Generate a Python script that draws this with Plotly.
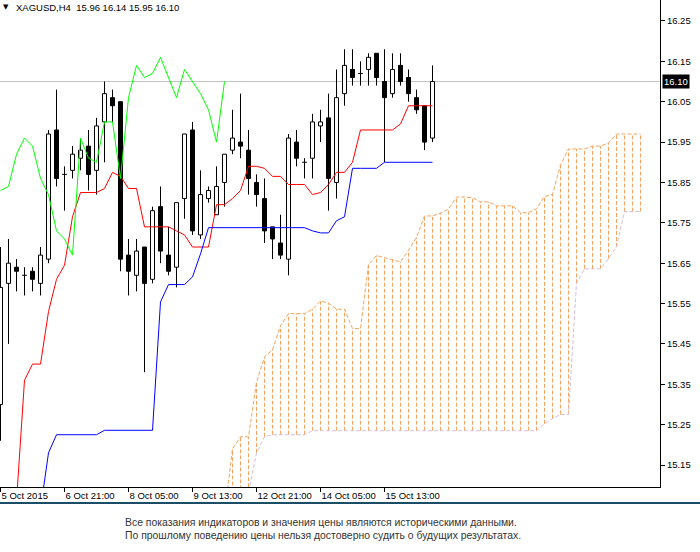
import plotly.graph_objects as go

# H4 bars, index 0 = 5 Oct 13:00 ... 54 = 16 Oct 13:00
bars = list(range(55))
open_ = [15.30, 15.60, 15.64, 15.62, 15.63, 15.60, 15.66, 15.98, 15.87, 15.88,
         15.91, 15.94, 15.88, 16.00, 16.06, 16.05, 15.67, 15.62, 15.69, 15.61,
         15.79, 15.67, 15.64, 15.81, 15.98, 15.72, 15.81, 15.77, 15.85, 15.93,
         15.95, 15.93, 15.85, 15.81, 15.74, 15.70, 15.66, 15.95, 15.90, 15.91,
         15.99, 16.01, 15.85, 16.07, 16.13, 16.12, 16.13, 16.17, 16.10, 16.07,
         16.14, 16.11, 16.06, 16.04, 15.96]
high = [15.69, 15.71, 15.66, 15.64, 15.64, 15.69, 15.98, 16.08, 15.89, 15.94,
        15.96, 15.98, 16.01, 16.10, 16.08, 16.05, 15.71, 15.71, 15.69, 15.79,
        15.84, 15.74, 15.80, 15.97, 16.00, 15.88, 15.84, 15.89, 15.92, 16.03,
        16.07, 15.98, 15.87, 15.86, 15.74, 15.77, 15.97, 15.98, 15.91, 16.02,
        16.03, 16.07, 16.13, 16.18, 16.18, 16.15, 16.17, 16.17, 16.18, 16.17,
        16.17, 16.13, 16.08, 16.04, 16.14]
low = [15.21, 15.45, 15.58, 15.57, 15.58, 15.57, 15.65, 15.84, 15.78, 15.86,
       15.88, 15.83, 15.82, 15.90, 16.00, 15.63, 15.57, 15.58, 15.38, 15.60,
       15.65, 15.62, 15.59, 15.76, 15.72, 15.71, 15.80, 15.77, 15.79, 15.92,
       15.91, 15.82, 15.79, 15.70, 15.66, 15.66, 15.62, 15.89, 15.86, 15.86,
       15.95, 15.78, 15.81, 16.04, 16.09, 16.09, 16.09, 16.09, 15.90, 16.06,
       16.09, 16.05, 16.02, 15.93, 15.95]
close = [15.59, 15.65, 15.63, 15.62, 15.61, 15.67, 15.97, 15.86, 15.87, 15.92,
         15.93, 15.87, 15.99, 16.07, 16.04, 15.66, 15.63, 15.68, 15.60, 15.78,
         15.68, 15.63, 15.80, 15.97, 15.73, 15.82, 15.83, 15.84, 15.92, 15.96,
         15.94, 15.86, 15.82, 15.73, 15.71, 15.67, 15.96, 15.91, 15.90, 16.00,
         16.00, 15.86, 16.06, 16.14, 16.11, 16.12, 16.16, 16.11, 16.06, 16.13,
         16.10, 16.07, 16.03, 15.95, 16.10]

# Ichimoku lines
tenkan = [14.98, 15.01, 15.06, 15.36, 15.40, 15.40, 15.53, 15.61, 15.645, 15.765,
          15.825, 15.825, 15.825, 15.835, 15.875, 15.865, 15.835, 15.835, 15.74, 15.74,
          15.74, 15.74, 15.73, 15.72, 15.69, 15.69, 15.69, 15.795, 15.795, 15.81,
          15.83, 15.89, 15.89, 15.885, 15.865, 15.865, 15.845, 15.845, 15.845, 15.82,
          15.825, 15.845, 15.875, 15.875, 15.90, 15.98, 15.98, 15.98, 15.98, 15.98,
          15.995, 16.04, 16.04, 16.04, 16.04]
kijun = [14.98, 15.00, 15.00, 15.02, 15.04, 15.04, 15.18, 15.225, 15.225, 15.225,
         15.225, 15.225, 15.225, 15.236, 15.236, 15.236, 15.236, 15.236, 15.236, 15.236,
         15.554, 15.597, 15.597, 15.597, 15.616, 15.673, 15.738, 15.738, 15.738, 15.738,
         15.738, 15.738, 15.738, 15.738, 15.738, 15.738, 15.738, 15.738, 15.738, 15.73,
         15.725, 15.725, 15.755, 15.765, 15.885, 15.885, 15.885, 15.885, 15.90, 15.90,
         15.90, 15.90, 15.90, 15.90, 15.90]

cloud_x = list(range(28, 81))
senkou_a = [15.03, 15.19, 15.22, 15.22, 15.355, 15.418, 15.435, 15.495, 15.525, 15.525,
            15.525, 15.536, 15.556, 15.551, 15.536, 15.536, 15.488, 15.488, 15.647, 15.669,
            15.664, 15.659, 15.653, 15.682, 15.714, 15.767, 15.767, 15.774, 15.784, 15.814,
            15.814, 15.812, 15.802, 15.802, 15.792, 15.792, 15.792, 15.775, 15.775, 15.785,
            15.815, 15.82, 15.893, 15.933, 15.933, 15.933, 15.94, 15.94, 15.948, 15.97,
            15.97, 15.97, 15.97]
senkou_b = [15.02, 15.04, 15.06, 15.08, 15.18, 15.22, 15.225, 15.225, 15.225, 15.225,
            15.225, 15.235, 15.235, 15.235, 15.235, 15.235, 15.235, 15.235, 15.235, 15.235,
            15.235, 15.235, 15.235, 15.235, 15.235, 15.235, 15.235, 15.235, 15.235, 15.235,
            15.235, 15.235, 15.235, 15.235, 15.235, 15.235, 15.235, 15.235, 15.235, 15.235,
            15.252, 15.265, 15.275, 15.275, 15.60, 15.636, 15.636, 15.636, 15.661, 15.69,
            15.778, 15.778, 15.778]

chikou_x = list(range(0, 29))
chikou = close[26:]

price_ticks = [15.15, 15.25, 15.35, 15.45, 15.55, 15.65, 15.75, 15.85, 15.95, 16.05, 16.15, 16.25]
time_ticks = [0, 8, 16, 24, 32, 40, 48]
time_labels = ["5 Oct 2015", "6 Oct 21:00", "8 Oct 05:00", "9 Oct 13:00",
               "12 Oct 21:00", "14 Oct 05:00", "15 Oct 13:00"]
last_price = 16.10

fig = go.Figure()

# cloud hatch between the two spans
hx, hy = [], []
for j, a, b in zip(cloud_x, senkou_a, senkou_b):
    hx += [j, j, None]
    hy += [b, a, None]
fig.add_trace(go.Scatter(x=hx, y=hy, mode="lines",
                         line=dict(color="#F4A460", width=1, dash="4px,2px")))
fig.add_trace(go.Scatter(x=cloud_x, y=senkou_a, mode="lines",
                         line=dict(color="#F4A460", width=1, dash="4px,2px")))
fig.add_trace(go.Scatter(x=cloud_x, y=senkou_b, mode="lines",
                         line=dict(color="#D8BFD8", width=1, dash="4px,2px")))

# candle bodies
up = [i for i in bars if close[i] > open_[i]]
dn = [i for i in bars if close[i] < open_[i]]
fig.add_trace(go.Bar(x=up, base=[open_[i] for i in up], y=[close[i] - open_[i] for i in up],
                     width=0.5, marker=dict(color="white", line=dict(color="black", width=1))))
fig.add_trace(go.Bar(x=dn, base=[close[i] for i in dn], y=[open_[i] - close[i] for i in dn],
                     width=0.5, marker=dict(color="black", line=dict(color="black", width=1))))

# wicks and doji
wx, wy = [], []
for i in bars:
    top = max(open_[i], close[i])
    bot = min(open_[i], close[i])
    wx += [i, i, None, i, i, None]
    wy += [high[i], top, None, bot, low[i], None]
    if open_[i] == close[i]:
        wx += [i - 0.3, i + 0.3, None]
        wy += [open_[i], open_[i], None]
fig.add_trace(go.Scatter(x=wx, y=wy, mode="lines", line=dict(color="black", width=1)))

fig.add_trace(go.Scatter(x=bars, y=tenkan, mode="lines", line=dict(color="#FF0000", width=1)))
fig.add_trace(go.Scatter(x=bars, y=kijun, mode="lines", line=dict(color="#0000FF", width=1)))
fig.add_trace(go.Scatter(x=chikou_x, y=chikou, mode="lines", line=dict(color="#00FF00", width=1)))

fig.add_shape(type="line", xref="paper", x0=0, x1=1, y0=last_price, y1=last_price,
              line=dict(color="#C0C0C0", width=1), layer="below")
# separator below the chart
fig.add_shape(type="line", xref="paper", yref="paper", x0=0, x1=700 / 660,
              y0=-0.0329, y1=-0.0329, line=dict(color="#1B4D66", width=2))

fig.add_annotation(xref="paper", yref="paper", x=0, y=1, xanchor="left", yanchor="middle",
                   xshift=1, yshift=-7, text="▼", showarrow=False,
                   font=dict(family="DejaVu Sans", size=7, color="black"))
fig.add_annotation(xref="paper", yref="paper", x=0, y=1, xanchor="left", yanchor="middle",
                   xshift=14, yshift=-7, showarrow=False,
                   text="XAGUSD,H4\u00a0\u00a015.96 16.14 15.95 16.10",
                   font=dict(family="Liberation Sans", size=9.5, color="black"))
fig.add_annotation(xref="paper", x=1, y=last_price, xanchor="left", yanchor="middle",
                   xshift=2, text="16.10", showarrow=False, bgcolor="black", borderpad=1,
                   font=dict(family="Liberation Sans", size=9.5, color="white"))
fig.add_annotation(xref="paper", yref="paper", x=123 / 660, y=-0.0719, xanchor="left",
                   yanchor="middle", showarrow=False,
                   text="Все показания индикаторов и значения цены являются историческими данными.",
                   font=dict(family="Liberation Sans", size=10.4, color="#333333"))
fig.add_annotation(xref="paper", yref="paper", x=123 / 660, y=-0.0986, xanchor="left",
                   yanchor="middle", showarrow=False,
                   text="По прошлому поведению цены нельзя достоверно судить о будущих результатах.",
                   font=dict(family="Liberation Sans", size=10.4, color="#333333"))

fig.update_layout(
    width=700, height=552,
    margin=dict(l=0, r=40, t=0, b=65),
    paper_bgcolor="white", plot_bgcolor="white",
    showlegend=False, barmode="overlay", hovermode=False,
    xaxis=dict(range=[-0.0625, 82.4375], tickvals=time_ticks, ticktext=time_labels,
               ticks="outside", ticklen=4, tickcolor="black", ticklabelposition="outside right",
               showline=True, linecolor="black", linewidth=1, showgrid=False, zeroline=False,
               tickfont=dict(family="Liberation Sans", size=9.5, color="black")),
    yaxis=dict(side="right", range=[15.0955, 16.302], tickvals=price_ticks,
               ticktext=["%.2f" % p for p in price_ticks],
               ticks="outside", ticklen=4, tickcolor="black",
               showline=True, linecolor="black", linewidth=1, showgrid=False, zeroline=False,
               tickfont=dict(family="Liberation Sans", size=9.5, color="black")),
)

fig.write_html("out.html", config={"displayModeBar": False},
               post_script="document.body.style.margin='0';")
